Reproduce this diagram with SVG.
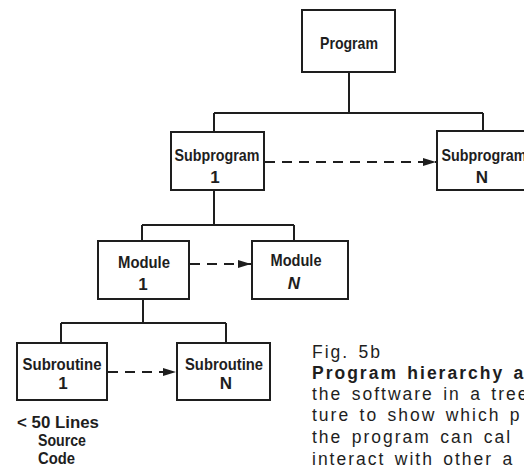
<svg xmlns="http://www.w3.org/2000/svg" width="524" height="468" viewBox="0 0 524 468">
  <style>
    .box { fill: #fff; stroke: #1e1e1e; stroke-width: 2; }
    .link { fill: none; stroke: #1e1e1e; stroke-width: 2; }
    .call { fill: none; stroke: #1e1e1e; stroke-width: 2; stroke-dasharray: 10 7; }
    .lbl { font-family: "Liberation Sans", Arial, sans-serif; font-weight: bold; font-size: 17px; fill: #1e1e1e; text-anchor: middle; }
    .note { font-family: "Liberation Sans", Arial, sans-serif; font-weight: bold; font-size: 16px; fill: #1e1e1e; }
    .cap { font-family: "Liberation Sans", Arial, sans-serif; font-size: 17.5px; fill: #1e1e1e; letter-spacing: 2px; word-spacing: 2.5px; }
  </style>
  <defs>
    <marker id="head" markerWidth="14" markerHeight="10" refX="13" refY="5" orient="auto" markerUnits="userSpaceOnUse">
      <path d="M0,1 L13,5 L0,9 Z" fill="#1e1e1e"/>
    </marker>
  </defs>
  <rect width="524" height="468" fill="#fff"/>

  <g id="connectors">
    <!-- tree links -->
    <path class="link" d="M349,72 V113 M214,113 H483 M214,113 V132 M483,113 V131"/>
    <path class="link" d="M214,190 V225 M142,225 H294 M142,225 V241 M294,225 V241"/>
    <path class="link" d="M143,299 V323 M61,323 H226 M61,323 V343 M226,323 V343"/>
    <!-- calls between siblings -->
    <path class="call" d="M265,162 H436" marker-end="url(#head)"/>
    <path class="call" d="M190,264 H251" marker-end="url(#head)"/>
    <path class="call" d="M108,372 H176" marker-end="url(#head)"/>
  </g>

  <g id="program">
    <rect class="box" x="302" y="10" width="93" height="62"/>
    <text class="lbl" x="349" y="49" textLength="58" lengthAdjust="spacingAndGlyphs">Program</text>
  </g>

  <g id="subprogram-1">
    <rect class="box" x="171" y="132" width="93" height="58"/>
    <text class="lbl" x="217" y="161" textLength="85" lengthAdjust="spacingAndGlyphs">Subprogram</text>
    <text class="lbl" x="215" y="183">1</text>
  </g>

  <g id="subprogram-n">
    <rect class="box" x="437" y="131" width="95" height="59"/>
    <text class="lbl" x="484" y="161" textLength="85" lengthAdjust="spacingAndGlyphs">Subprogram</text>
    <text class="lbl" x="482" y="183">N</text>
  </g>

  <g id="module-1">
    <rect class="box" x="98" y="241" width="91" height="58"/>
    <text class="lbl" x="144" y="268" textLength="52" lengthAdjust="spacingAndGlyphs">Module</text>
    <text class="lbl" x="143" y="290">1</text>
  </g>

  <g id="module-n">
    <rect class="box" x="252" y="241" width="96" height="58"/>
    <text class="lbl" x="296" y="266" textLength="51" lengthAdjust="spacingAndGlyphs">Module</text>
    <text class="lbl" x="294" y="289" font-style="italic">N</text>
  </g>

  <g id="subroutine-1">
    <rect class="box" x="17" y="343" width="90" height="57"/>
    <text class="lbl" x="62" y="370" textLength="79" lengthAdjust="spacingAndGlyphs">Subroutine</text>
    <text class="lbl" x="63" y="389">1</text>
  </g>

  <g id="subroutine-n">
    <rect class="box" x="177" y="343" width="93" height="57"/>
    <text class="lbl" x="224" y="370" textLength="78" lengthAdjust="spacingAndGlyphs">Subroutine</text>
    <text class="lbl" x="226" y="389">N</text>
  </g>

  <g id="size-note">
    <text class="note" x="17" y="428" textLength="82" lengthAdjust="spacingAndGlyphs">&lt; 50 Lines</text>
    <text class="note" x="38" y="446" textLength="48" lengthAdjust="spacingAndGlyphs">Source</text>
    <text class="note" x="38" y="464" textLength="37" lengthAdjust="spacingAndGlyphs">Code</text>
  </g>

  <g id="caption">
    <text class="cap" x="312" y="358">Fig. 5b</text>
    <text class="cap" x="312" y="379" font-weight="bold">Program hierarchy ar</text>
    <text class="cap" x="312" y="400">the software in a tree</text>
    <text class="cap" x="312" y="421">ture to show which p</text>
    <text class="cap" x="312" y="443">the program can cal</text>
    <text class="cap" x="312" y="465">interact with other a</text>
  </g>
</svg>
